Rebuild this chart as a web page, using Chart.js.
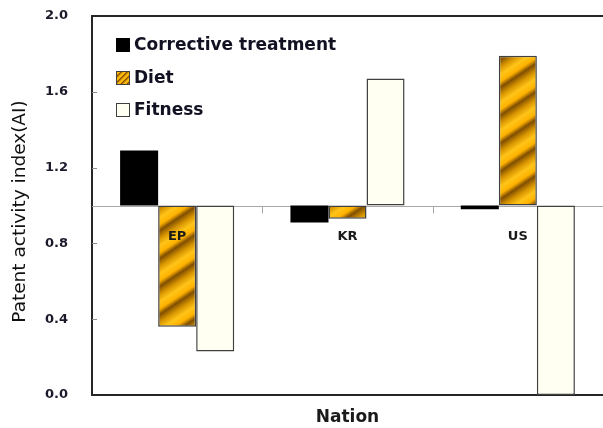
<!DOCTYPE html>
<html><head><meta charset="utf-8">
<script src="https://cdn.jsdelivr.net/npm/chart.js@4/dist/chart.umd.min.js"></script>
<style>html,body{margin:0;padding:0;background:#fff}canvas{display:block}</style>
</head><body>
<canvas id="c" width="603" height="428"></canvas>
<script>
// Patent activity index per nation, bars hang from the reference level 1.0
const nations = ['EP', 'KR', 'US'];
const seriesNames = ['Corrective treatment', 'Diet', 'Fitness'];
const corrective = [1.29, 0.91, 0.98];
const diet = [0.36, 0.93, 1.79];
const fitness = [0.23, 1.67, 0.0];
const yTicks = [0.0, 0.4, 0.8, 1.2, 1.6, 2.0];
const baseValue = 1.0;
const yTitle = 'Patent activity index(AI)';

const FONT = '"DejaVu Sans", Verdana, sans-serif';
const canvas = document.getElementById('c');
const ctx0 = canvas.getContext('2d');

// Diagonal gold stripes, built as a small repeating tile
function stripePattern(w, h, a, b, period) {
  const stops = [
    [0.00, [128, 78, 0]],
    [0.28, [214, 148, 0]],
    [0.55, [255, 196, 24]],
    [0.80, [255, 178, 0]],
    [1.00, [128, 78, 0]]
  ];
  const c = document.createElement('canvas');
  c.width = w; c.height = h;
  const g = c.getContext('2d');
  const img = g.createImageData(w, h);
  for (let y = 0; y < h; y++) {
    for (let x = 0; x < w; x++) {
      const t = ((a * x + b * y) % period) / period;
      let k = 0;
      while (k < stops.length - 2 && t > stops[k + 1][0]) k++;
      const [t0, c0] = stops[k], [t1, c1] = stops[k + 1];
      const f = (t - t0) / (t1 - t0);
      const i = (y * w + x) * 4;
      img.data[i] = c0[0] + (c1[0] - c0[0]) * f;
      img.data[i + 1] = c0[1] + (c1[1] - c0[1]) * f;
      img.data[i + 2] = c0[2] + (c1[2] - c0[2]) * f;
      img.data[i + 3] = 255;
    }
  }
  g.putImageData(img, 0, 0);
  return ctx0.createPattern(c, 'repeat');
}
const dietFill = stripePattern(42, 28, 2, 3, 84);
const dietLegendFill = stripePattern(6, 6, 1, 1, 6);

const fills = ['#000000', dietFill, '#FFFFF2'];
const legendFills = ['#000000', dietLegendFill, '#FFFFF2'];
const borders = ['#000000', '#404040', '#404040'];

const decor = {
  id: 'decor',
  beforeDatasetsDraw(chart) {
    const { ctx, chartArea: a, scales: { x, y } } = chart;
    const yb = Math.round(y.getPixelForValue(baseValue)) + 0.5;
    ctx.save();
    ctx.strokeStyle = '#a8a8a8';
    ctx.lineWidth = 1;
    ctx.beginPath();
    ctx.moveTo(a.left, yb);
    ctx.lineTo(a.right, yb);
    for (let i = 1; i < nations.length; i++) {
      const xb = Math.round((x.getPixelForValue(i - 1) + x.getPixelForValue(i)) / 2) + 0.5;
      ctx.moveTo(xb, yb);
      ctx.lineTo(xb, yb + 7);
    }
    ctx.stroke();
    ctx.restore();
  },
  afterDatasetsDraw(chart) {
    const { ctx, chartArea: a, scales: { x, y } } = chart;
    ctx.save();
    // category names just below the reference level
    const yb = y.getPixelForValue(baseValue);
    ctx.fillStyle = '#1a1a1a';
    ctx.font = 'bold 13px ' + FONT;
    ctx.textAlign = 'center';
    ctx.textBaseline = 'middle';
    nations.forEach((n, i) => ctx.fillText(n, x.getPixelForValue(i), yb + 31));

    // inward tick marks on the value axis
    ctx.strokeStyle = '#8c8c8c';
    ctx.lineWidth = 1;
    ctx.beginPath();
    yTicks.slice(1, -1).forEach(v => {
      const py = Math.round(y.getPixelForValue(v)) + 0.5;
      ctx.moveTo(a.left, py);
      ctx.lineTo(a.left + 5, py);
    });
    ctx.stroke();

    // top frame line
    ctx.strokeStyle = '#262626';
    ctx.lineWidth = 2;
    ctx.beginPath();
    ctx.moveTo(a.left - 1, a.top);
    ctx.lineTo(a.right, a.top);
    ctx.stroke();

    // value axis title
    ctx.save();
    ctx.translate(20, (a.top + a.bottom) / 2 + 6);
    ctx.rotate(-Math.PI / 2);
    ctx.font = '18.5px ' + FONT;
    ctx.fillStyle = '#111';
    ctx.textAlign = 'center';
    ctx.textBaseline = 'middle';
    ctx.fillText(yTitle, 0, 0);
    ctx.restore();

    // legend
    ctx.font = 'bold 17px ' + FONT;
    ctx.textAlign = 'left';
    ctx.textBaseline = 'middle';
    chart.data.datasets.forEach((ds, i) => {
      const cy = a.top + 29 + i * 32.5;
      const bx = a.left + 24, by = Math.round(cy - 7);
      ctx.fillStyle = legendFills[i];
      ctx.fillRect(bx, by, 14, 14);
      ctx.strokeStyle = borders[i];
      ctx.lineWidth = 1;
      ctx.strokeRect(bx + 0.5, by + 0.5, 13, 13);
      ctx.fillStyle = '#111122';
      ctx.fillText(ds.label, bx + 18, cy + 1);
    });
    ctx.restore();
  }
};

new Chart(canvas, {
  type: 'bar',
  data: {
    labels: nations,
    datasets: [corrective, diet, fitness].map((vals, i) => ({
      label: seriesNames[i],
      data: vals,
      base: baseValue,
      backgroundColor: fills[i],
      borderColor: borders[i],
      borderWidth: i === 0 ? 0 : 1.5,
      borderSkipped: false,
      categoryPercentage: 0.67,
      barPercentage: 1.0
    }))
  },
  options: {
    responsive: false,
    animation: false,
    devicePixelRatio: 1,
    layout: { padding: { top: 16, right: 0, bottom: 0, left: 0 } },
    plugins: { legend: { display: false }, tooltip: { enabled: false } },
    scales: {
      x: {
        grid: { display: false, drawTicks: false },
        border: { display: true, color: '#262626', width: 2 },
        ticks: { display: false },
        title: {
          display: true, text: 'Nation', color: '#1a1a1a',
          font: { family: FONT, size: 17, weight: 'bold' },
          padding: { top: 0, bottom: 0 }
        },
        afterFit: s => { s.height = 33; s.paddingLeft = 0; s.paddingRight = 0; }
      },
      y: {
        min: 0, max: 2.0,
        grid: { display: false, drawTicks: false },
        border: { display: true, color: '#262626', width: 2 },
        afterBuildTicks: s => { s.ticks = yTicks.map(v => ({ value: v })); },
        ticks: {
          padding: 24, color: '#1a1a2a',
          font: { family: FONT, size: 13, weight: 'bold' },
          callback: v => Number(v).toFixed(1)
        },
        afterFit: s => { s.width = 92; s.paddingTop = 0; s.paddingBottom = 0; }
      }
    }
  },
  plugins: [decor]
});
</script>
</body></html>
